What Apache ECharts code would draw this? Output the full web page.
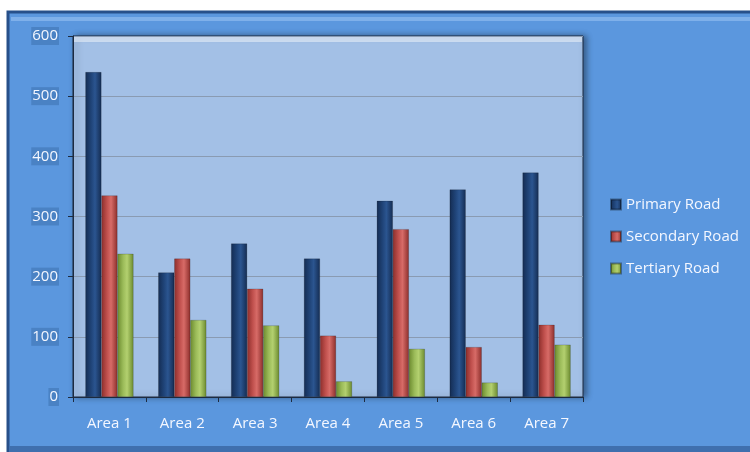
<!DOCTYPE html>
<html><head><meta charset="utf-8">
<script src="https://cdn.jsdelivr.net/npm/echarts@6/dist/echarts.min.js"></script>
<style>html,body{margin:0;padding:0;background:#fff}#c{width:750px;height:452px}</style>
</head><body><div id="c"></div>
<script>
var categories = ['Area 1','Area 2','Area 3','Area 4','Area 5','Area 6','Area 7'];
var seriesNames = ['Primary Road','Secondary Road','Tertiary Road'];
var primary = [540, 207, 255, 230, 326, 345, 373];
var secondary = [335, 230, 180, 102, 279, 83, 120];
var tertiary = [238, 128, 119, 26, 80, 24, 87];
var yTicks = [0, 100, 200, 300, 400, 500, 600];

function grad(dark, mid, light){
  return new echarts.graphic.LinearGradient(0,0,1,0,[
    {offset:0,color:dark},{offset:0.35,color:mid},{offset:0.6,color:light},{offset:1,color:dark}
  ]);
}
var fills = [
  grad('#142c52','#1f4377','#2b5590'),
  grad('#8c2e2b','#c0504d','#d76b67'),
  grad('#6b8a2e','#9bbb59','#b3d06f')
];
var legendColors = ['#1f3f6e','#c0504d','#9bbb59'];
var datas = [primary, secondary, tertiary];

var chart = echarts.init(document.getElementById('c'));
chart.setOption({
  backgroundColor:'#ffffff',
  animation:false,
  textStyle:{fontFamily:'Open Sans'},
  graphic:[
    {type:'rect',z:-10,shape:{x:8,y:12,width:760,height:450},style:{fill:'#5b97de',stroke:'#27508a',lineWidth:3}},
    {type:'rect',z:-9,shape:{x:11,y:17,width:760,height:4},style:{fill:'#7fb0ea'}},
    {type:'rect',z:-9,shape:{x:9,y:446,width:760,height:6},style:{fill:'#3f6fae'}},
    {type:'rect',z:5,silent:true,shape:{x:74,y:37,width:508,height:5},style:{fill:'rgba(255,255,255,0.45)'}},
    {type:'rect',z:-1,silent:true,shape:{x:74,y:390,width:508,height:7},style:{fill:'rgba(40,60,90,0.25)'}}
  ],
  color: legendColors,
  legend:{
    orient:'vertical', left:605, top:192, itemWidth:10, itemHeight:10, itemGap:17,
    icon:'rect',
    textStyle:{color:'#f4f7ff',fontSize:15,fontFamily:'Open Sans'},
    data: seriesNames
  },
  grid:{left:73,top:36,width:510,height:361,show:true,backgroundColor:'#a3c0e6',borderColor:'#1d2b40',borderWidth:1,
    shadowColor:'rgba(0,0,0,0.4)',shadowBlur:6,shadowOffsetX:3},
  xAxis:{
    type:'category', data:categories,
    axisLine:{lineStyle:{color:'#1d2b40',width:1}},
    axisTick:{show:true,length:5,lineStyle:{color:'#1d2b40'}},
    axisLabel:{color:'#f4f7ff',fontSize:15,margin:19}
  },
  yAxis:{
    type:'value', min:yTicks[0], max:yTicks[yTicks.length-1], interval:100,
    axisLine:{show:true,lineStyle:{color:'#1d2b40'}},
    axisTick:{show:true,length:5,lineStyle:{color:'#1d2b40'}},
    splitLine:{lineStyle:{color:'#8a9bb2',width:1}},
    axisLabel:{color:'#f4f7ff',fontSize:15,margin:14,backgroundColor:'#4a82c4',padding:[2,1,1,1]}
  },
  series: seriesNames.map(function(n,i){
    return {name:n,type:'bar',data:datas[i],barGap:'0%',barCategoryGap:'34%',
      itemStyle:{color:fills[i],borderColor:'rgba(0,0,0,0.35)',borderWidth:0.5}};
  })
});
</script></body></html>
